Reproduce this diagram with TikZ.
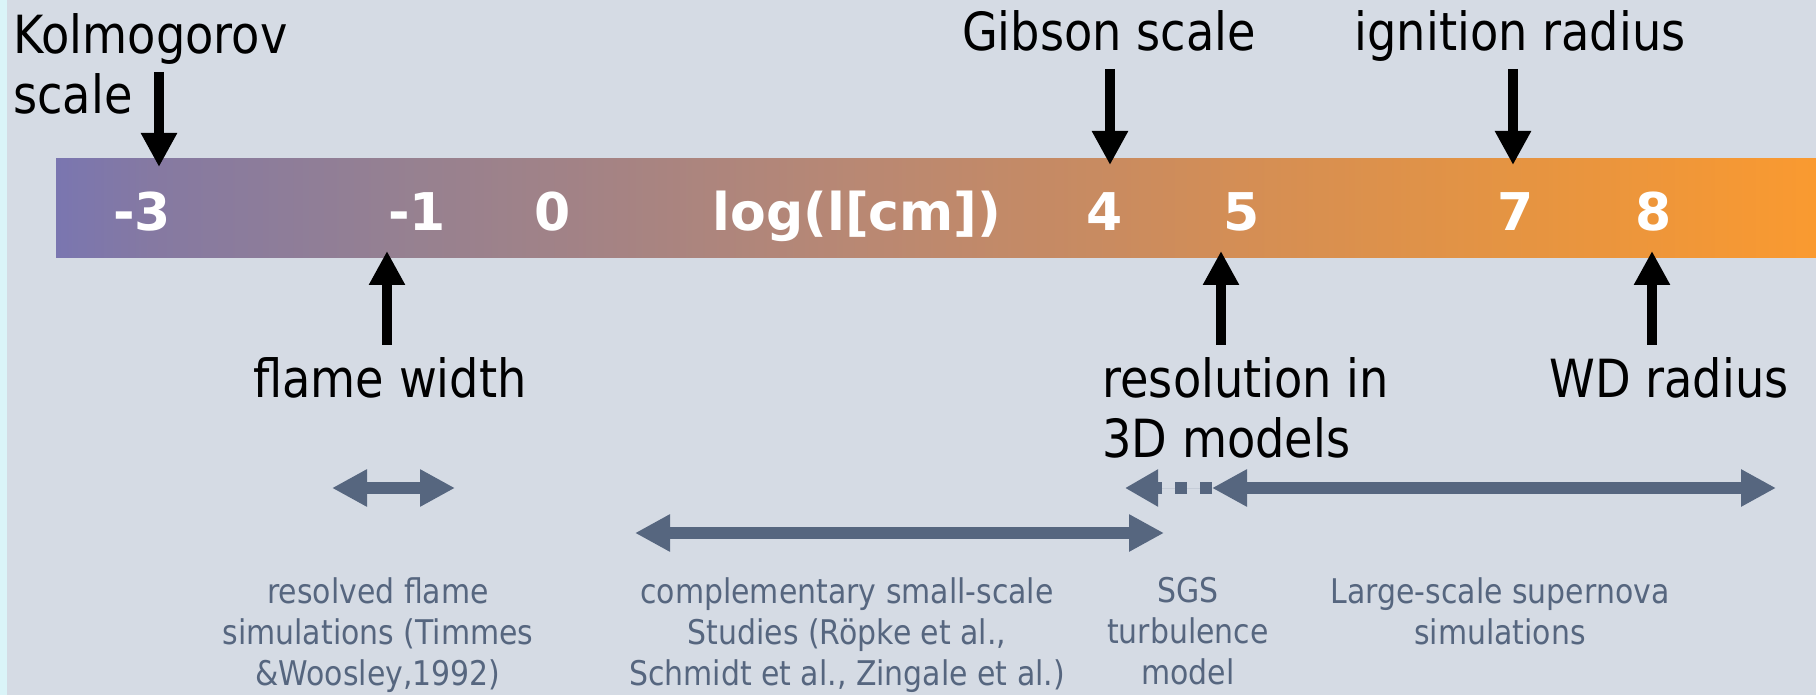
\documentclass[tikz,border=0pt]{standalone}
\usepackage{fontspec}
\setmainfont{DejaVu Sans}
\newfontfamily\narrowfont{DejaVu Sans}[FakeStretch=0.88]
\usetikzlibrary{arrows.meta}
\definecolor{bg}{HTML}{D5DBE4}
\definecolor{strip}{HTML}{DAF4F8}
\definecolor{slate}{HTML}{56667F}
\definecolor{g0}{HTML}{7A76B0}
\definecolor{g1}{HTML}{8579A2}
\definecolor{g2}{HTML}{978190}
\definecolor{g3}{HTML}{A18287}
\definecolor{g4}{HTML}{B98873}
\definecolor{g5}{HTML}{C98B60}
\definecolor{g6}{HTML}{D48E55}
\definecolor{g7}{HTML}{E59442}
\definecolor{g8}{HTML}{EE963A}
\definecolor{g9}{HTML}{FA9A30}
\begin{document}
\begin{tikzpicture}[x=0.5pt,y=-0.5pt,
  blk/.style={line width=5pt, -{Triangle[length=17pt,width=17pt]}},
  rng/.style={line width=6pt, draw=slate, fill=slate, {Triangle[length=17.5pt,width=17.5pt]}-{Triangle[length=17.5pt,width=17.5pt]}},
  dsh/.style={line width=6pt, draw=slate, fill=slate, dash pattern=on 6pt off 6.5pt, -{Triangle[length=16.5pt,width=17.5pt]}},
  big/.style={font=\narrowfont\fontsize{26.3}{30}\selectfont, inner sep=0pt},
  ticklbl/.style={font=\fontsize{26}{30}\selectfont\bfseries, text=white, inner sep=0pt, anchor=base},
  note/.style={font=\narrowfont\fontsize{17}{20.5}\selectfont, text=slate, inner sep=0pt, align=center, anchor=north}]
\useasboundingbox (0,0) rectangle (1816,695);
\fill[bg] (0,0) rectangle (1816,695);
\fill[strip] (0,0) rectangle (7,695);
% gradient bar
\shade[left color=g0, right color=g1] (56,159) rectangle (151,258);
\shade[left color=g1, right color=g2] (150,159) rectangle (421,258);
\shade[left color=g2, right color=g3] (420,159) rectangle (561,258);
\shade[left color=g3, right color=g4] (560,159) rectangle (861,258);
\shade[left color=g4, right color=g5] (860,159) rectangle (1109,258);
\shade[left color=g5, right color=g6] (1108,159) rectangle (1241,258);
\shade[left color=g6, right color=g7] (1240,159) rectangle (1514,258);
\shade[left color=g7, right color=g8] (1513,159) rectangle (1655,258);
\shade[left color=g8, right color=g9] (1654,159) rectangle (1816,258);
% tick labels
\node[ticklbl] (tm3) at (142,231) {-3};
\node[ticklbl] (tm1) at (417,231) {-1};
\node[ticklbl] (t0) at (553,231) {0};
\node[ticklbl] (tlog) at (857,231) {log(l[cm])};
\node[ticklbl] (t4) at (1105,231) {4};
\node[ticklbl] (t5) at (1242,231) {5};
\node[ticklbl] (t7) at (1516,231) {7};
\node[ticklbl] (t8) at (1654,231) {8};
% black labels
\node[big, anchor=north west, align=left] (kol) at (13,13) {Kolmogorov\\scale};
\node[big, anchor=base] (gib) at (1109,51) {Gibson scale};
\node[big, anchor=base] (ign) at (1520,51) {ignition radius};
\node[big, anchor=base] (fw) at (390,397) {flame width};
\node[big, anchor=north west, align=left] (res) at (1102,357) {resolution in\\3D models};
\node[big, anchor=base] (wd) at (1669,397) {WD radius};
% black arrows
\coordinate (kA) at (159,72);  \coordinate (kB) at (159,167);
\coordinate (gA) at (1110,69); \coordinate (gB) at (1110,165);
\coordinate (iA) at (1513,69); \coordinate (iB) at (1513,165);
\coordinate (fA) at (387,345); \coordinate (fB) at (387,251);
\coordinate (rA) at (1221,345); \coordinate (rB) at (1221,251);
\coordinate (wA) at (1652,345); \coordinate (wB) at (1652,251);
\draw[blk] (kA) -- (kB);
\draw[blk] (gA) -- (gB);
\draw[blk] (iA) -- (iB);
\draw[blk] (fA) -- (fB);
\draw[blk] (rA) -- (rB);
\draw[blk] (wA) -- (wB);
% range arrows
\coordinate (r1a) at (332,488); \coordinate (r1b) at (455,488);
\coordinate (r2a) at (635,533); \coordinate (r2b) at (1164,533);
\coordinate (r3a) at (1212,488); \coordinate (r3b) at (1776,488);
\coordinate (r4b) at (1125,488);
\draw[rng] (r1a) -- (r1b);
\draw[rng] (r2a) -- (r2b);
\draw[dsh] (r3a) -- (r4b);
\draw[rng] (r3a) -- (r3b);
% notes
\node[note] (n1) at (378,577) {resolved flame\\simulations (Timmes\\\&Woosley,1992)};
\node[note] (n2) at (847,577) {complementary small-scale\\Studies (Röpke et al.,\\Schmidt et al., Zingale et al.)};
\node[note] (n3) at (1188,577) {SGS\\turbulence\\model};
\node[note] (n4) at (1500,577) {Large-scale supernova\\simulations};
\end{tikzpicture}
\end{document}
